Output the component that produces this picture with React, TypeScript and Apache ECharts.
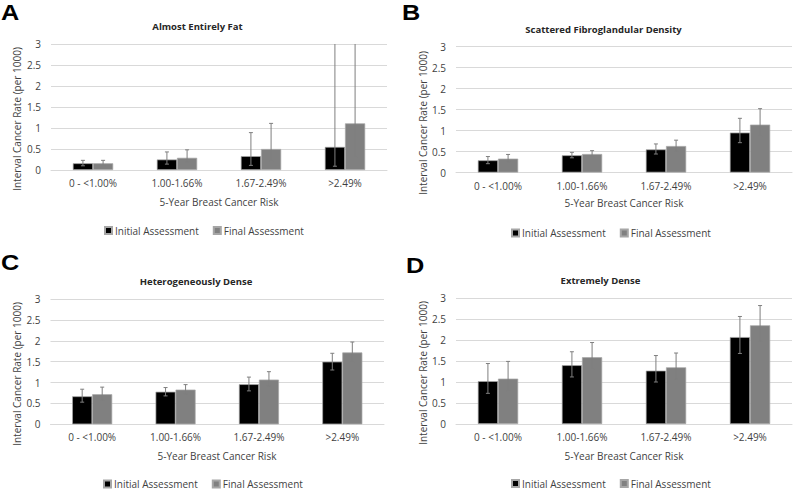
import React, { useEffect, useRef } from "react";
import * as echarts from "echarts";

const categories = ["0 - <1.00%", "1.00-1.66%", "1.67-2.49%", ">2.49%"];

// Panel A: Almost Entirely Fat
const initialA = [0.16, 0.25, 0.33, 0.55];
const initialALow = [0.1, 0.14, 0.11, 0.09];
const initialAHigh = [0.23, 0.43, 0.89, 3.6];
const finalA = [0.16, 0.29, 0.5, 1.11];
const finalALow = [0.1, 0.18, 0.22, 0.31];
const finalAHigh = [0.23, 0.48, 1.11, 3.6];

// Panel B: Scattered Fibroglandular Density
const initialB = [0.29, 0.41, 0.55, 0.95];
const initialBLow = [0.21, 0.35, 0.44, 0.71];
const initialBHigh = [0.38, 0.48, 0.68, 1.29];
const finalB = [0.33, 0.44, 0.63, 1.14];
const finalBLow = [0.25, 0.37, 0.51, 0.87];
const finalBHigh = [0.43, 0.52, 0.77, 1.52];

// Panel C: Heterogeneously Dense
const initialC = [0.67, 0.78, 0.96, 1.5];
const initialCLow = [0.53, 0.68, 0.8, 1.3];
const initialCHigh = [0.84, 0.88, 1.13, 1.7];
const finalC = [0.72, 0.83, 1.07, 1.72];
const finalCLow = [0.57, 0.72, 0.91, 1.5];
const finalCHigh = [0.89, 0.95, 1.26, 1.97];

// Panel D: Extremely Dense
const initialD = [1.02, 1.4, 1.27, 2.07];
const initialDLow = [0.73, 1.12, 1.0, 1.68];
const initialDHigh = [1.44, 1.72, 1.63, 2.56];
const finalD = [1.08, 1.59, 1.35, 2.35];
const finalDLow = [0.79, 1.31, 1.07, 1.97];
const finalDHigh = [1.49, 1.94, 1.69, 2.82];

const seriesNames = ["Initial Assessment", "Final Assessment"];
const panelTitles = [
  "Almost Entirely Fat",
  "Scattered Fibroglandular Density",
  "Heterogeneously Dense",
  "Extremely Dense",
];
const panelLetters = ["A", "B", "C", "D"];
const xAxisTitle = "5-Year Breast Cancer Risk";
const yAxisTitle = "Interval Cancer Rate (per 1000)";

const FONT = "'Open Sans', 'Liberation Sans', Arial, sans-serif";
const LETTER_FONT = "'Liberation Sans', Arial, sans-serif";
const TEXT = "#3f3f3f";

const panels = [
  {
    ini: initialA, iniLo: initialALow, iniHi: initialAHigh,
    fin: finalA, finLo: finalALow, finHi: finalAHigh,
    grid: { left: 51, right: 413, top: 44, bottom: 324 },
    title: [197.5, 26.5], letter: [1, 12.5], yName: [17, 119], xName: [219, 201.7], legend: [99, 220.5],
  },
  {
    ini: initialB, iniLo: initialBLow, iniHi: initialBHigh,
    fin: finalB, finLo: finalBLow, finHi: finalBHigh,
    grid: { left: 456, right: 8, top: 46.5, bottom: 321.5 },
    title: [603.5, 29], letter: [402, 12.5], yName: [423, 123], xName: [624, 203.3], legend: [506, 223],
  },
  {
    ini: initialC, iniLo: initialCLow, iniHi: initialCHigh,
    fin: finalC, finLo: finalCLow, finHi: finalCHigh,
    grid: { left: 50.5, right: 416, top: 299, bottom: 69.7 },
    title: [196, 281], letter: [1, 263], yName: [17, 374], xName: [217, 455.7], legend: [98, 474],
  },
  {
    ini: initialD, iniLo: initialDLow, iniHi: initialDHigh,
    fin: finalD, finLo: finalDLow, finHi: finalDHigh,
    grid: { left: 456, right: 8, top: 298, bottom: 70 },
    title: [600.5, 280], letter: [406, 266], yName: [423, 373], xName: [624, 456], legend: [506, 473.5],
  },
];

function renderErr(params: any, api: any) {
  const cat = api.value(0);
  const lo = api.value(1);
  const hi = api.value(2);
  const side = api.value(3);
  const band = api.size([1, 0])[0];
  const x = api.coord([cat, 0])[0] + side * band * 0.12;
  const yLo = api.coord([cat, lo])[1];
  const yHi = api.coord([cat, hi])[1];
  const style = { stroke: "#7f7f7f", lineWidth: 1 };
  const cap = 2;
  return {
    type: "group",
    children: [
      { type: "line", shape: { x1: x, y1: yLo, x2: x, y2: yHi }, style },
      { type: "line", shape: { x1: x - cap, y1: yLo, x2: x + cap, y2: yLo }, style },
      { type: "line", shape: { x1: x - cap, y1: yHi, x2: x + cap, y2: yHi }, style },
    ],
  };
}

export default function App() {
  const ref = useRef<HTMLDivElement>(null);
  useEffect(() => {
    if (!ref.current) return;
    const chart = echarts.init(ref.current, null, { renderer: "svg" });
    const grids: any[] = [];
    const xAxes: any[] = [];
    const yAxes: any[] = [];
    const series: any[] = [];
    const legends: any[] = [];
    const graphics: any[] = [];

    panels.forEach((p, i) => {
      grids.push({ ...p.grid, containLabel: false });
      xAxes.push({
        type: "category",
        gridIndex: i,
        data: categories,
        axisLine: { show: true, lineStyle: { color: "#d9d9d9", width: 1 } },
        axisTick: { show: false },
        axisLabel: { color: TEXT, fontSize: 10, fontFamily: FONT, margin: 8 },
      });
      yAxes.push({
        type: "value",
        gridIndex: i,
        min: 0,
        max: 3,
        interval: 0.5,
        axisLine: { show: false },
        axisTick: { show: false },
        splitLine: { lineStyle: { color: "#d9d9d9", width: 1 } },
        axisLabel: { color: TEXT, fontSize: 10, fontFamily: FONT, margin: 10 },
      });
      series.push({
        type: "bar",
        name: seriesNames[0],
        xAxisIndex: i,
        yAxisIndex: i,
        data: p.ini,
        barWidth: "24%",
        barGap: "0%",
        itemStyle: { color: "#000000", borderColor: "#a6a6a6", borderWidth: 0.7 },
      });
      series.push({
        type: "bar",
        name: seriesNames[1],
        xAxisIndex: i,
        yAxisIndex: i,
        data: p.fin,
        barWidth: "24%",
        barGap: "0%",
        itemStyle: { color: "#808080", borderColor: "#a6a6a6", borderWidth: 0.7 },
      });
      const errData: any[] = [];
      categories.forEach((_, k) => {
        errData.push([k, p.iniLo[k], p.iniHi[k], -1]);
        errData.push([k, p.finLo[k], p.finHi[k], 1]);
      });
      series.push({
        type: "custom",
        xAxisIndex: i,
        yAxisIndex: i,
        data: errData,
        renderItem: renderErr,
        encode: { x: 0, y: [1, 2] },
        clip: true,
        z: 10,
        silent: true,
      });
      legends.push({
        left: p.legend[0],
        top: p.legend[1],
        data: seriesNames,
        icon: "rect",
        itemWidth: 7,
        itemHeight: 7,
        itemGap: 14,
        selectedMode: false,
        textStyle: { color: TEXT, fontSize: 10, fontFamily: FONT, padding: [0, 0, 0, -2] },
      });
      graphics.push({
        type: "text",
        x: p.title[0],
        y: p.title[1],
        style: {
          text: panelTitles[i],
          fill: "#262626",
          font: `bold 9.5px ${FONT}`,
          textAlign: "center",
          textVerticalAlign: "middle",
        },
      });
      graphics.push({
        type: "text",
        x: p.letter[0],
        y: p.letter[1],
        scaleX: 1.15,
        style: {
          text: panelLetters[i],
          fill: "#000000",
          font: `bold 22px ${LETTER_FONT}`,
          textAlign: "left",
          textVerticalAlign: "middle",
        },
      });
      graphics.push({
        type: "text",
        x: p.xName[0],
        y: p.xName[1],
        style: {
          text: xAxisTitle,
          fill: TEXT,
          font: `10px ${FONT}`,
          textAlign: "center",
          textVerticalAlign: "middle",
        },
      });
      graphics.push({
        type: "text",
        x: p.yName[0],
        y: p.yName[1],
        rotation: Math.PI / 2,
        style: {
          text: yAxisTitle,
          fill: TEXT,
          font: `10px ${FONT}`,
          textAlign: "center",
          textVerticalAlign: "middle",
        },
      });
    });

    chart.setOption({
      animation: false,
      backgroundColor: "#ffffff",
      grid: grids,
      xAxis: xAxes,
      yAxis: yAxes,
      series,
      legend: legends,
      graphic: graphics,
    });
    return () => chart.dispose();
  }, []);
  return (
    <div
      ref={ref}
      style={{ position: "fixed", left: 0, top: 0, width: 800, height: 494 }}
    />
  );
}
